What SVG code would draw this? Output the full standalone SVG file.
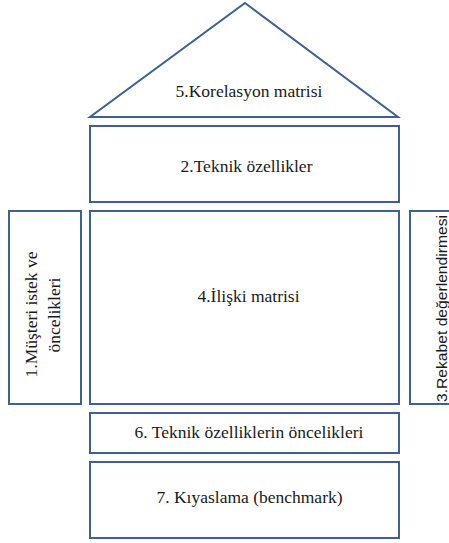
<svg xmlns="http://www.w3.org/2000/svg" width="449" height="543" viewBox="0 0 449 543">
<style>
.box{fill:#ffffff;stroke:#3f6190;stroke-width:2}
.t{font-family:"Liberation Serif","Times New Roman",serif;font-size:17.5px;fill:#1a1a1a;text-anchor:middle}
.s{font-family:"Liberation Sans",Arial,sans-serif;font-size:15px;fill:#1a1a1a;text-anchor:middle}
</style>
<rect width="449" height="543" fill="#ffffff"/>
<g id="n5">
<polygon class="box" points="245,3 398,117 90,117"/>
<text class="t" x="249" y="97">5.Korelasyon matrisi</text>
</g>
<g id="n2">
<rect class="box" x="90" y="126" width="309" height="76"/>
<text class="t" x="246.5" y="172">2.Teknik özellikler</text>
</g>
<g id="n1">
<rect class="box" x="9" y="211" width="72" height="193"/>
<text class="t" transform="translate(37,314.5) rotate(-90)">1.Müşteri istek ve</text>
<text class="t" transform="translate(60,315) rotate(-90)">öncelikleri</text>
</g>
<g id="n4">
<rect class="box" x="90" y="211" width="309" height="193"/>
<text class="t" x="248.5" y="302">4.İlişki matrisi</text>
</g>
<g id="n3">
<rect class="box" x="410" y="211" width="45" height="193"/>
<text class="s" transform="translate(447,308.5) rotate(-90)" textLength="187" lengthAdjust="spacingAndGlyphs">3.Rekabet değerlendirmesi</text>
</g>
<g id="n6">
<rect class="box" x="90" y="413" width="309" height="40"/>
<text class="t" x="249" y="438">6. Teknik özelliklerin öncelikleri</text>
</g>
<g id="n7">
<rect class="box" x="90" y="462" width="309" height="76"/>
<text class="t" x="249.5" y="503">7. Kıyaslama (benchmark)</text>
</g>
<g id="connectors"/>
</svg>
